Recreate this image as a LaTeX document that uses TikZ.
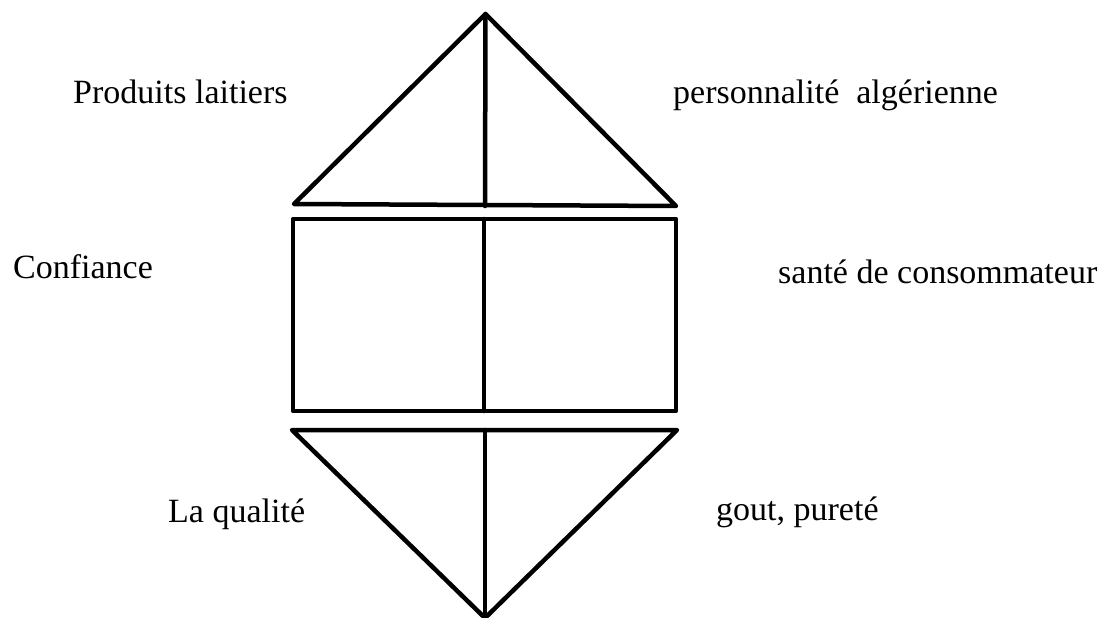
\documentclass[tikz,border=0pt]{standalone}
\usepackage{fontspec}
\setmainfont{Liberation Serif}
\usetikzlibrary{positioning}

\begin{document}
\begin{tikzpicture}[
  x=1pt, y=-1pt,
  part/.style={line width=4.5pt, line join=round, line cap=round, draw=black},
  lbl/.style={anchor=base west, inner sep=0pt, font=\fontsize{34}{40}\selectfont}
]
\useasboundingbox (0,0) rectangle (1112,618);

% top triangle
\coordinate (topapex) at (485.5,14);
\draw[part] (294,204) -- (topapex) -- (676,206) -- cycle;
\draw[part] (topapex) -- (485,206);

% middle box
\draw[part] (293,219) rectangle (676,411);
\draw[part] (484,219) -- (484,411);

% bottom triangle
\coordinate (botapex) at (485,618);
\draw[part] (292,430) -- (677,430) -- (botapex) -- cycle;
\draw[part] (485,430) -- (botapex);

\node[lbl] (produits) at (73,103)  {Produits laitiers};
\node[lbl] (perso)    at (673,103) {personnalité\ \ algérienne};
\node[lbl] (confiance) at (13,278) {Confiance};
\node[lbl] (sante)    at (778,283) {santé de consommateur};
\node[lbl] (qualite)  at (168,522) {La qualité};
\node[lbl] (gout)     at (716,520) {gout, pureté};
\end{tikzpicture}
\end{document}
